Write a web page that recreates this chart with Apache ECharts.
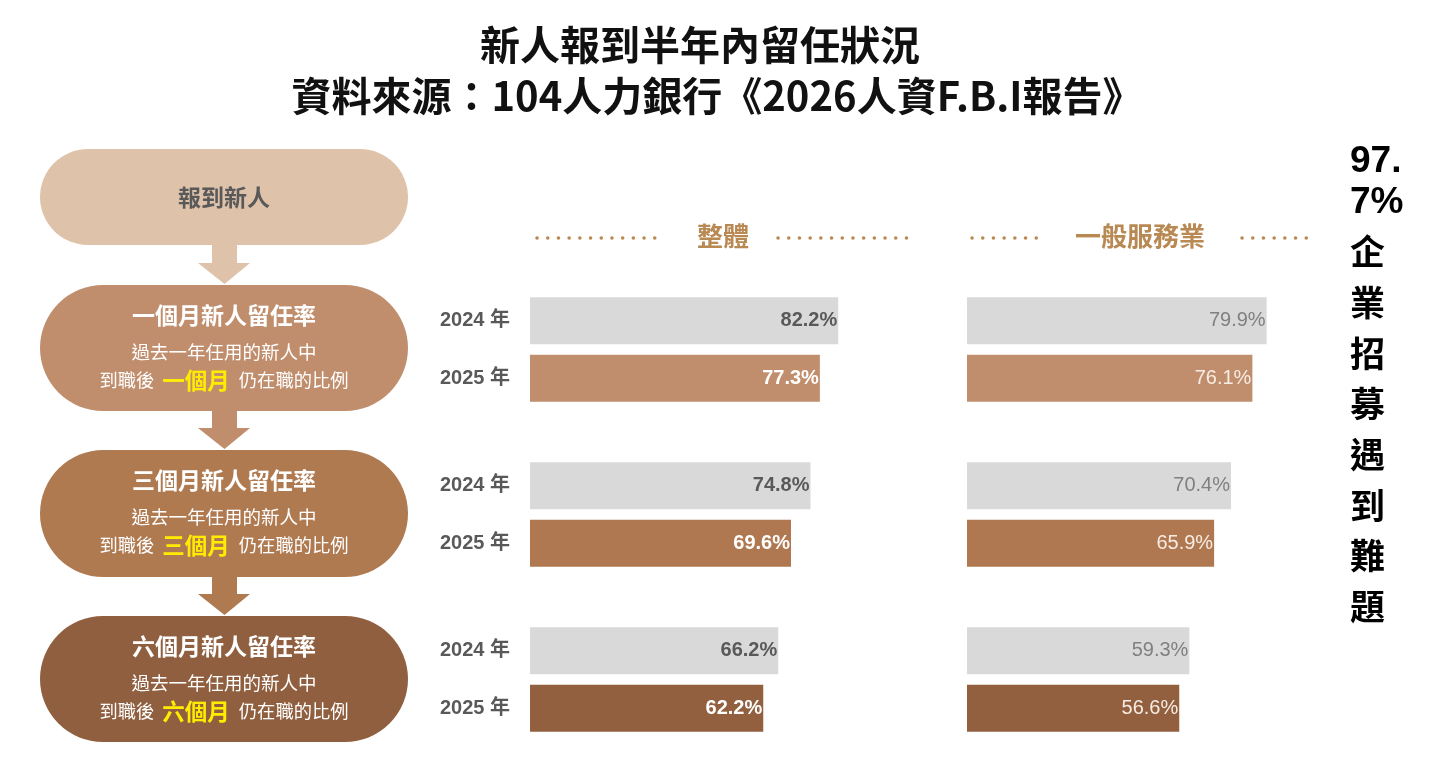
<!DOCTYPE html>
<html>
<head>
<meta charset="utf-8">
<title>新人報到半年內留任狀況</title>
<script src="https://cdn.jsdelivr.net/npm/echarts@6/dist/echarts.min.js"></script>
<style>
html, body { margin: 0; padding: 0; background: #fff; }
#main { width: 1440px; height: 763px; }
</style>
</head>
<body>
<div id="main"></div>
<script>
// 新人留任率 資料
var titleLines = ['新人報到半年內留任狀況', '資料來源：104人力銀行《2026人資F.B.I報告》'];
var years = ['2024 年', '2025 年'];
var panels = ['整體', '一般服務業'];
var stages = ['一個月', '三個月', '六個月'];
var overall2024 = [82.2, 74.8, 66.2];
var overall2025 = [77.3, 69.6, 62.2];
var service2024 = [79.9, 70.4, 59.3];
var service2025 = [76.1, 65.9, 56.6];
var sideNote = ['97.', '7%'];
var sideText = '企業招募遇到難題';

var chart = echarts.init(document.getElementById('main'));

var CJK = "'Noto Sans CJK TC', sans-serif";
var LAT = "'Liberation Sans', 'Noto Sans CJK TC', sans-serif";

var pillColors = ['#dfc2aa', '#c08e6c', '#b07a51', '#8f5f3f'];
var barColors = ['#c08e6c', '#b07850', '#925f3f'];
var pillBoxes = [[149, 96], [285, 126], [450, 127], [616, 126]]; // [top, height]
var gridTops = [292, 457, 622];
var panelLeft = [530, 967];
var panelHead = [
    { cx: 723, dots: [[537, 665], [778, 912]] },
    { cx: 1140, dots: [[972, 1043], [1242, 1312]] },
];

// 每個區塊一個 grid
var grid = [], xAxis = [], yAxis = [], series = [];
var panelData = [[overall2024, overall2025], [service2024, service2025]];

panelData.forEach(function (pd, p) {
    stages.forEach(function (st, s) {
        var idx = grid.length;
        grid.push({ left: panelLeft[p], top: gridTops[s], width: 375, height: 115 });
        xAxis.push({ gridIndex: idx, type: 'value', min: 0, max: 100, show: false });
        yAxis.push({
            gridIndex: idx,
            type: 'category',
            data: years,
            inverse: true,
            axisLine: { show: false },
            axisTick: { show: false },
            splitLine: { show: false },
            axisLabel: {
                show: p === 0,
                margin: 20,
                color: '#595959',
                fontSize: 20,
                fontWeight: 'bold',
                fontFamily: LAT,
            },
        });
        series.push({
            type: 'bar',
            xAxisIndex: idx,
            yAxisIndex: idx,
            barWidth: 47,
            silent: true,
            label: {
                show: true,
                position: 'insideRight',
                distance: 1,
                fontSize: 20,
                fontWeight: p === 0 ? 'bold' : 'normal',
                fontFamily: LAT,
                formatter: function (d) {
                    return d.value.toFixed(1) + '%';
                },
            },
            data: [
                {
                    value: pd[0][s],
                    itemStyle: { color: '#d9d9d9' },
                    label: { color: p === 0 ? '#595959' : '#808080' },
                },
                {
                    value: pd[1][s],
                    itemStyle: { color: barColors[s] },
                    label: { color: p === 0 ? '#ffffff' : '#f7ece3' },
                },
            ],
        });
    });
});

// 左側流程圖、標題等
var graphic = [];

titleLines.forEach(function (t, i) {
    graphic.push({
        type: 'text',
        x: i === 0 ? 700 : 717,
        y: i === 0 ? 45 : 96,
        style: {
            text: t,
            fill: '#111',
            fontSize: 40,
            fontWeight: 'bold',
            fontFamily: CJK,
            align: 'center',
            verticalAlign: 'middle',
        },
    });
});

for (var i = 0; i < 3; i++) {
    var shaftTop = pillBoxes[i][0] + pillBoxes[i][1] - 2;
    var tipY = pillBoxes[i + 1][0] - 1;
    var headY = tipY - 21;
    graphic.push({
        type: 'polygon',
        shape: { points: [[212, shaftTop], [237, shaftTop], [237, headY], [250, headY], [224.5, tipY], [198, headY], [212, headY]] },
        style: { fill: pillColors[i] },
    });
}

pillBoxes.forEach(function (b, i) {
    graphic.push({
        type: 'rect',
        shape: { x: 40, y: b[0], width: 368, height: b[1], r: b[1] / 2 },
        style: { fill: pillColors[i] },
    });
});

graphic.push({
    type: 'text',
    x: 224,
    y: 197,
    style: {
        text: '報到新人',
        fill: '#595959',
        fontSize: 23,
        fontWeight: 'bold',
        fontFamily: CJK,
        align: 'center',
        verticalAlign: 'middle',
    },
});

stages.forEach(function (st, s) {
    var pillTop = pillBoxes[s + 1][0];
    graphic.push({
        type: 'text',
        x: 224,
        y: pillTop + 30,
        style: {
            text: st + '新人留任率',
            fill: '#fff',
            fontSize: 23,
            fontWeight: 'bold',
            fontFamily: CJK,
            align: 'center',
            verticalAlign: 'middle',
        },
    });
    graphic.push({
        type: 'text',
        x: 224,
        y: pillTop + 67,
        style: {
            text: '過去一年任用的新人中',
            fill: '#fff',
            fontSize: 18.5,
            fontFamily: CJK,
            align: 'center',
            verticalAlign: 'middle',
        },
    });
    graphic.push({
        type: 'text',
        x: 224,
        y: pillTop + 95,
        style: {
            text: '{n|到職後}{h|' + st + '}{n|仍在職的比例}',
            align: 'center',
            verticalAlign: 'middle',
            rich: {
                n: { fill: '#fff', fontSize: 18.3, fontFamily: CJK },
                h: { fill: '#ffec00', fontSize: 22.5, fontWeight: 'bold', fontFamily: CJK, padding: [0, 9, 0, 8] },
            },
        },
    });
});

panels.forEach(function (name, p) {
    var h = panelHead[p];
    graphic.push({
        type: 'text',
        x: h.cx,
        y: 236,
        style: {
            text: name,
            fill: '#b98953',
            fontSize: 26,
            fontWeight: 'bold',
            fontFamily: CJK,
            align: 'center',
            verticalAlign: 'middle',
        },
    });
    h.dots.forEach(function (d) {
        graphic.push({
            type: 'line',
            shape: { x1: d[0], y1: 238, x2: d[1], y2: 238 },
            style: { stroke: '#b98953', lineWidth: 3.5, lineDash: [0.1, 10.6], lineCap: 'round' },
        });
    });
});

graphic.push({
    type: 'text',
    x: 1350,
    y: 141.5,
    style: {
        text: sideNote.join('\n'),
        fill: '#000',
        fontSize: 37,
        fontWeight: 'bold',
        fontFamily: LAT,
        lineHeight: 41,
        align: 'left',
        verticalAlign: 'top',
    },
});
graphic.push({
    type: 'text',
    x: 1350,
    y: 226.6,
    style: {
        text: sideText.split('').join('\n'),
        fill: '#000',
        fontSize: 35,
        fontWeight: 'bold',
        fontFamily: CJK,
        lineHeight: 50.7,
        align: 'left',
        verticalAlign: 'top',
    },
});

var option = {
    backgroundColor: '#fff',
    animation: false,
    grid: grid,
    xAxis: xAxis,
    yAxis: yAxis,
    series: series,
    graphic: graphic,
};

chart.setOption(option);
window.addEventListener('resize', function () {
    chart.resize();
});
</script>
</body>
</html>
